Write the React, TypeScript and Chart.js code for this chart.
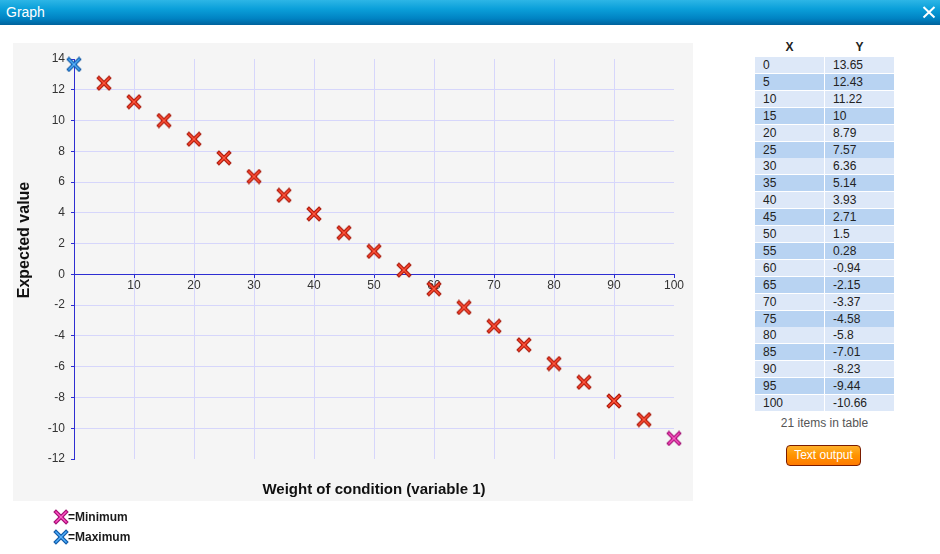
import React, { useEffect, useRef } from "react";
import { Chart, registerables } from "chart.js";

Chart.register(...registerables);

// ---- data ----
const xValues = [0, 5, 10, 15, 20, 25, 30, 35, 40, 45, 50, 55, 60, 65, 70, 75, 80, 85, 90, 95, 100];
const yValues = [13.65, 12.43, 11.22, 10, 8.79, 7.57, 6.36, 5.14, 3.93, 2.71, 1.5, 0.28, -0.94, -2.15, -3.37, -4.58, -5.8, -7.01, -8.23, -9.44, -10.66];
const yTableLabels = ["13.65", "12.43", "11.22", "10", "8.79", "7.57", "6.36", "5.14", "3.93", "2.71", "1.5", "0.28", "-0.94", "-2.15", "-3.37", "-4.58", "-5.8", "-7.01", "-8.23", "-9.44", "-10.66"];
const xAxisRange = [0, 100];
const yAxisRange = [-12, 14];
const xStep = 10;
const yStep = 2;
const windowTitle = "Graph";
const yTitle = "Expected value";
const xTitle = "Weight of condition (variable 1)";
const tableHeaders = ["X", "Y"];
const legendLabels = ["=Minimum", "=Maximum"];
const buttonLabel = "Text output";

const FONT = '"Liberation Sans", Arial, Helvetica, sans-serif';
const AXIS_BLUE = "#2e2ed2";
const GRID = "#d6d6fb";

type MarkerColors = { outline: string; fill: string; light: string };
const RED: MarkerColors = { outline: "#a31a0c", fill: "#ea3420", light: "#ff6a4e" };
const BLUE: MarkerColors = { outline: "#12569f", fill: "#2f8fe2", light: "#74c0ff" };
const MAGENTA: MarkerColors = { outline: "#9c1070", fill: "#e22ea4", light: "#ff7cd4" };

function drawMarker(ctx: CanvasRenderingContext2D, c: MarkerColors) {
  const line = (w: number, col: string, a: number, b: number) => {
    ctx.strokeStyle = col;
    ctx.lineWidth = w;
    ctx.lineCap = "butt";
    ctx.beginPath();
    ctx.moveTo(a, a);
    ctx.lineTo(b, b);
    ctx.moveTo(b, a);
    ctx.lineTo(a, b);
    ctx.stroke();
  };
  line(3.8, c.outline, 1.6, 14.4);
  line(2.0, c.fill, 2.2, 13.8);
  line(0.7, c.light, 3.2, 12.8);
}

function makeMarker(c: MarkerColors): HTMLCanvasElement {
  const cv = document.createElement("canvas");
  cv.width = 16;
  cv.height = 16;
  const ctx = cv.getContext("2d")!;
  drawMarker(ctx, c);
  return cv;
}

function MarkerIcon({ colors, left, top }: { colors: MarkerColors; left: number; top: number }) {
  const ref = useRef<HTMLCanvasElement | null>(null);
  useEffect(() => {
    const ctx = ref.current!.getContext("2d")!;
    ctx.clearRect(0, 0, 16, 16);
    drawMarker(ctx, colors);
  }, [colors]);
  return (
    <canvas ref={ref} width={16} height={16} style={{ position: "absolute", left, top, width: 16, height: 16 }} />
  );
}

function ChartPanel() {
  const ref = useRef<HTMLCanvasElement | null>(null);
  useEffect(() => {
    const maxIdx = yValues.indexOf(Math.max(...yValues));
    const minIdx = yValues.indexOf(Math.min(...yValues));
    const red = makeMarker(RED);
    const blue = makeMarker(BLUE);
    const magenta = makeMarker(MAGENTA);

    const titlesPlugin = {
      id: "axisTitles",
      afterDraw(chart: any) {
        const { ctx, chartArea } = chart;
        ctx.save();
        ctx.fillStyle = "#111";
        ctx.textAlign = "center";
        ctx.textBaseline = "middle";
        ctx.font = `bold 16px ${FONT}`;
        ctx.translate(chartArea.left - 49.5, chartArea.top + 181);
        ctx.rotate(-Math.PI / 2);
        ctx.fillText(yTitle, 0, 0);
        ctx.restore();
        ctx.save();
        ctx.fillStyle = "#111";
        ctx.textAlign = "center";
        ctx.textBaseline = "middle";
        ctx.font = `bold 15px ${FONT}`;
        ctx.fillText(xTitle, (chartArea.left + chartArea.right) / 2, chartArea.bottom + 31);
        ctx.restore();
      },
    };

    const chart = new Chart(ref.current!, {
      type: "scatter",
      data: {
        datasets: [
          {
            data: xValues.map((x, i) => ({ x, y: yValues[i] })),
            pointStyle: (ctx: any) => (ctx.dataIndex === maxIdx ? blue : ctx.dataIndex === minIdx ? magenta : red),
            pointRadius: 7,
            showLine: false,
            clip: false as any,
          } as any,
        ],
      },
      options: {
        animation: false,
        responsive: false,
        maintainAspectRatio: false,
        layout: { padding: { left: 0, right: 19, top: 16, bottom: 42 } },
        plugins: {
          legend: { display: false },
          tooltip: { enabled: false },
          title: { display: false },
        },
        scales: {
          x: {
            type: "linear",
            position: { y: 0 } as any,
            min: xAxisRange[0],
            max: xAxisRange[1],
            ticks: {
              stepSize: xStep,
              padding: 1,
              color: "#333",
              font: { family: FONT, size: 12 },
              maxRotation: 0,
              autoSkip: false,
              callback: (v: any) => (v === xAxisRange[0] ? "" : String(v)),
            },
            grid: {
              color: (ctx: any) =>
                ctx.tick && (ctx.tick.value === xAxisRange[0] || ctx.tick.value === xAxisRange[1]) ? "rgba(0,0,0,0)" : GRID,
              tickColor: AXIS_BLUE,
              tickLength: 3,
              lineWidth: 1,
            },
            border: { color: AXIS_BLUE, width: 1 },
          },
          y: {
            type: "linear",
            position: "left",
            min: yAxisRange[0],
            max: yAxisRange[1],
            ticks: {
              stepSize: yStep,
              padding: 6,
              color: "#333",
              font: { family: FONT, size: 12 },
              autoSkip: false,
            },
            grid: {
              color: (ctx: any) =>
                ctx.tick && (ctx.tick.value === yAxisRange[0] || ctx.tick.value === yAxisRange[1] || ctx.tick.value === 0)
                  ? "rgba(0,0,0,0)"
                  : GRID,
              tickColor: AXIS_BLUE,
              tickLength: 3,
              lineWidth: 1,
            },
            border: { color: AXIS_BLUE, width: 1 },
            afterFit: (s: any) => {
              s.width = 61;
            },
          },
        },
      },
      plugins: [titlesPlugin],
    });
    return () => chart.destroy();
  }, []);
  return (
    <div style={{ position: "absolute", left: 13, top: 43, width: 680, height: 458, background: "#f5f5f5" }}>
      <canvas ref={ref} width={680} height={458} style={{ display: "block", width: 680, height: 458 }} />
    </div>
  );
}

export default function App() {
  return (
    <div
      style={{
        position: "fixed",
        left: 0,
        top: 0,
        width: 940,
        height: 554,
        background: "#ffffff",
        overflow: "hidden",
        fontFamily: FONT,
      }}
    >
      {/* title bar */}
      <div
        style={{
          position: "absolute",
          left: 0,
          top: 0,
          width: 940,
          height: 25,
          background: "linear-gradient(to bottom, #2db6e6 0%, #0ba0da 35%, #0082c2 75%, #00629c 100%)",
        }}
      >
        <div style={{ position: "absolute", left: 6, top: 4, color: "#fff", fontSize: 14, lineHeight: "16px" }}>
          {windowTitle}
        </div>
        <svg width={14} height={14} style={{ position: "absolute", left: 922, top: 5 }}>
          <line x1={1.5} y1={2} x2={12.5} y2={12.5} stroke="#fff" strokeWidth={2} />
          <line x1={12.5} y1={2} x2={1.5} y2={12.5} stroke="#fff" strokeWidth={2} />
        </svg>
      </div>

      <ChartPanel />

      {/* legend */}
      <MarkerIcon colors={MAGENTA} left={53} top={509} />
      <div style={{ position: "absolute", left: 68, top: 510, fontSize: 12, fontWeight: "bold", color: "#1a1a1a", lineHeight: "14px" }}>
        {legendLabels[0]}
      </div>
      <MarkerIcon colors={BLUE} left={53} top={529} />
      <div style={{ position: "absolute", left: 68, top: 530, fontSize: 12, fontWeight: "bold", color: "#1a1a1a", lineHeight: "14px" }}>
        {legendLabels[1]}
      </div>

      {/* table */}
      <div style={{ position: "absolute", left: 755, top: 39, width: 69, textAlign: "center", fontSize: 12, fontWeight: "bold", color: "#222", lineHeight: "16px" }}>
        {tableHeaders[0]}
      </div>
      <div style={{ position: "absolute", left: 825, top: 39, width: 69, textAlign: "center", fontSize: 12, fontWeight: "bold", color: "#222", lineHeight: "16px" }}>
        {tableHeaders[1]}
      </div>
      {xValues.map((x, i) => {
        const bg = i % 2 === 0 ? "#dde8f8" : "#b8d3f2";
        const top = 57 + i * 16.9;
        return (
          <React.Fragment key={i}>
            <div
              style={{
                position: "absolute",
                left: 755,
                top,
                width: 69,
                height: 16,
                background: bg,
                fontSize: 12,
                lineHeight: "16px",
                color: "#222",
                paddingLeft: 8,
                boxSizing: "border-box",
              }}
            >
              {String(x)}
            </div>
            <div
              style={{
                position: "absolute",
                left: 825,
                top,
                width: 69,
                height: 16,
                background: bg,
                fontSize: 12,
                lineHeight: "16px",
                color: "#222",
                paddingLeft: 8,
                boxSizing: "border-box",
              }}
            >
              {yTableLabels[i]}
            </div>
          </React.Fragment>
        );
      })}
      <div style={{ position: "absolute", left: 755, top: 415, width: 139, textAlign: "center", fontSize: 12, color: "#555", lineHeight: "16px" }}>
        {`${xValues.length} items in table`}
      </div>
      <div
        style={{
          position: "absolute",
          left: 786,
          top: 445,
          width: 75,
          height: 21,
          boxSizing: "border-box",
          border: "1px solid #7a1c00",
          borderRadius: 4,
          background: "linear-gradient(to bottom, #ffb12a 0%, #ff9300 50%, #ff7a00 100%)",
          color: "#fff",
          fontSize: 12,
          lineHeight: "19px",
          textAlign: "center",
        }}
      >
        {buttonLabel}
      </div>
    </div>
  );
}
